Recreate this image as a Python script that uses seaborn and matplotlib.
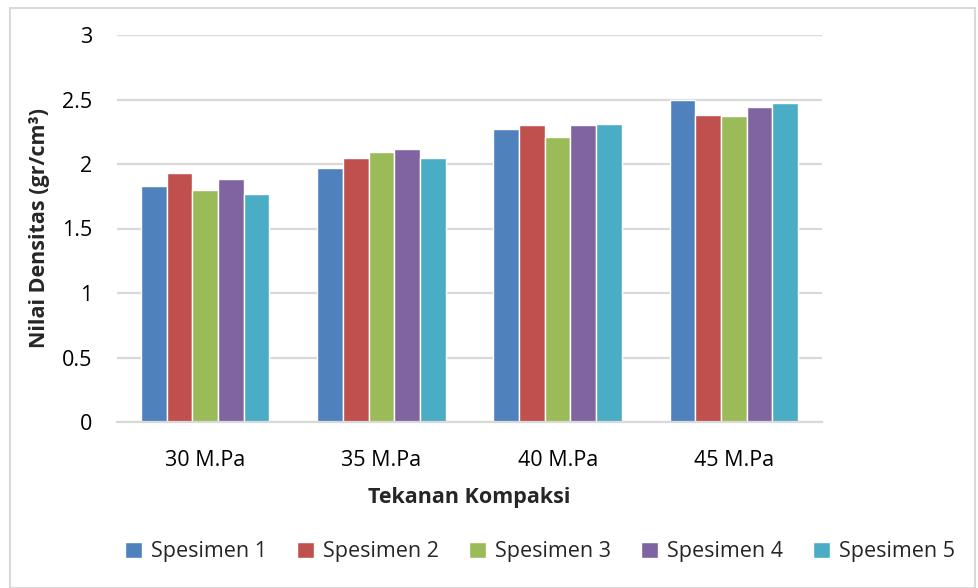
import pandas as pd
import matplotlib
matplotlib.use("Agg")
import matplotlib.pyplot as plt
from matplotlib.patches import Rectangle
import seaborn as sns

# data
tekanan = ["30 M.Pa", "35 M.Pa", "40 M.Pa", "45 M.Pa"]
spesimen = ["Spesimen 1", "Spesimen 2", "Spesimen 3", "Spesimen 4", "Spesimen 5"]
spesimen_1 = [1.83, 1.97, 2.27, 2.50]
spesimen_2 = [1.93, 2.05, 2.30, 2.38]
spesimen_3 = [1.80, 2.09, 2.21, 2.37]
spesimen_4 = [1.88, 2.12, 2.30, 2.44]
spesimen_5 = [1.77, 2.05, 2.31, 2.47]
y_ticks = [0, 0.5, 1, 1.5, 2, 2.5, 3]
y_tick_labels = ["0", "0.5", "1", "1.5", "2", "2.5", "3"]

colors = ["#4F81BD", "#C0504D", "#9BBB59", "#8064A2", "#4BACC6"]

rows = []
for name, vals in zip(spesimen, [spesimen_1, spesimen_2, spesimen_3, spesimen_4, spesimen_5]):
    for t, v in zip(tekanan, vals):
        rows.append({"Tekanan": t, "Spesimen": name, "Densitas": v})
df = pd.DataFrame(rows)

sns.set_theme(style="white")
plt.rcParams["font.family"] = ["Open Sans", "DejaVu Sans"]
fs = 15.5

fig = plt.figure(figsize=(9.79, 5.88), dpi=100)
ax = fig.add_axes([117 / 979, 1 - 422 / 588, (822 - 117) / 979, (422 - 35) / 588])

sns.barplot(data=df, x="Tekanan", y="Densitas", hue="Spesimen",
            order=tekanan, hue_order=spesimen, palette=colors,
            width=0.73, gap=0.0, edgecolor="white", linewidth=1.0,
            saturation=1, ax=ax, legend=True)

ax.set_ylim(0, 3)
ax.set_xlim(-0.5, len(tekanan) - 0.5)
ax.set_yticks(y_ticks)
ax.set_yticklabels(y_tick_labels)
ax.yaxis.grid(True, color="#D9D9D9", linewidth=1.6)
ax.set_axisbelow(True)
for s in ["top", "right", "left"]:
    ax.spines[s].set_visible(False)
ax.spines["bottom"].set_color("#D9D9D9")
ax.spines["bottom"].set_linewidth(1.6)
ax.tick_params(axis="both", length=0, labelsize=fs, colors="black")
ax.tick_params(axis="y", pad=18)
ax.tick_params(axis="x", pad=20)

ax.set_xlabel("Tekanan Kompaksi", fontsize=fs, fontweight="bold", labelpad=12)
ax.set_ylabel("Nilai Densitas (gr/cm³)", fontsize=fs, fontweight="bold")
ax.yaxis.set_label_coords(-(117 - 50) / 705, 0.5)

handles, labels = ax.get_legend_handles_labels()
ax.legend_.remove()
fig.legend(handles, labels, loc="center", bbox_to_anchor=(540 / 979, 1 - 552 / 588),
           ncol=5, frameon=False, fontsize=fs, handlelength=0.8, handleheight=0.8,
           handletextpad=0.4, columnspacing=1.4)

# outer chart border
fig.patches.append(Rectangle((10 / 979, 0.0), 1 - 14 / 979, 1 - 8 / 588,
                             transform=fig.transFigure, fill=False,
                             edgecolor="#D9D9D9", linewidth=1.5))

fig.savefig("out.png", dpi=100)
